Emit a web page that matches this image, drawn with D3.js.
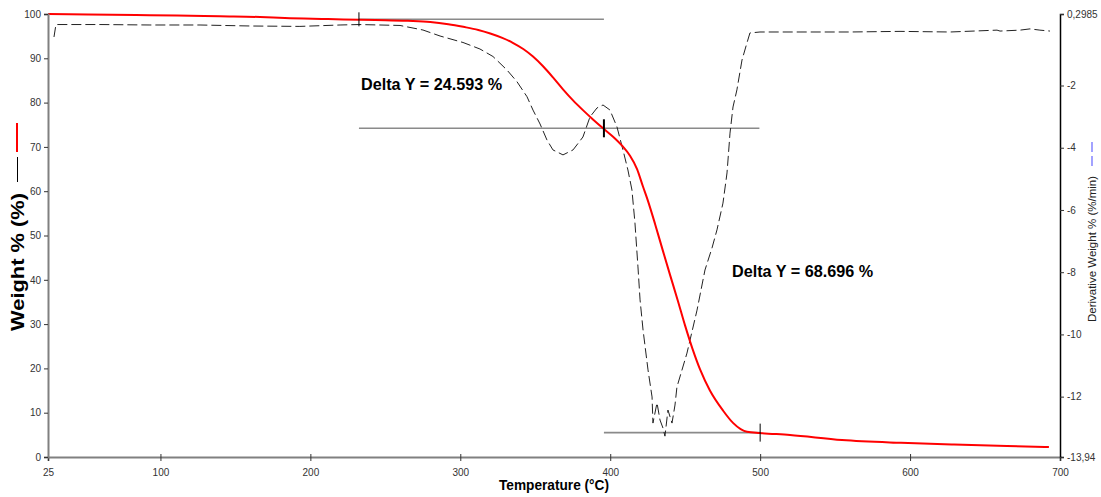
<!DOCTYPE html>
<html><head><meta charset="utf-8">
<script src="https://cdn.jsdelivr.net/npm/d3@7"></script>
<style>body{margin:0;background:#fff}svg{display:block}text{font-family:"Liberation Sans",Arial,sans-serif}</style>
</head><body><svg id="c" width="1101" height="497"></svg>
<script>
// Weight % curve (temperature °C, weight %)
const weightT = [25,51.7,83.7,111,139.7,166.4,183,211.8,233.1,250,265,280,292,302,312,320,328,335,342,348.5,355.2,361.8,368.5,375.2,381.8,388.5,395.8,401.9,408.5,413.2,417.9,421.9,425,430,435,440,445,450,455,460,466.5,475.2,481.9,487,491.2,499.9,519.9,554.6,593.9,629.3,664.6,692.6];
const weightV = [100,99.9,99.77,99.66,99.48,99.32,99.1,98.87,98.69,98.6,98.45,98.2,97.7,97.1,96.4,95.6,94.6,93.5,92.1,90.4,88.2,85.7,83.0,80.5,78.3,76.2,74.04,72.3,70.05,68.0,65.0,61.0,58.0,52.5,46.7,41.0,35.4,29.6,24.3,19.7,15.0,10.5,7.7,6.3,5.7,5.42,4.97,3.84,3.2,2.8,2.48,2.26];
// Derivative weight curve (temperature °C, %/min)
const derivT = [29,30.3,59.7,93,126.4,159.7,193,219.8,232.4,246.4,259.8,275.1,286.5,301.8,313.1,321.8,331.1,337.8,344.5,348.5,353.2,357.8,361.8,368.5,375.2,381.8,386.5,391.2,395.2,399.8,404.5,408.5,411.8,414.5,416.5,418.5,419.9,421.9,425.2,427.9,428.5,431.2,433.2,435.2,436.5,438.5,441.2,443.2,444.5,451.2,457.9,463.2,467.9,471.2,475.2,477.9,479.9,481.9,484.5,487.9,491.2,493.2,499.9,526.6,560,593.3,626.6,658,660,673.3,680,686.6,693.3];
const derivV = [-0.44,-0.04,-0.04,-0.055,-0.055,-0.087,-0.10,-0.055,-0.04,-0.055,-0.07,-0.216,-0.409,-0.617,-0.826,-1.067,-1.50,-1.877,-2.36,-2.79,-3.237,-3.75,-4.07,-4.23,-4.07,-3.655,-3.01,-2.72,-2.626,-2.787,-3.33,-4.07,-4.715,-5.36,-6.42,-7.83,-8.89,-9.86,-11.14,-12.01,-12.85,-12.20,-12.75,-13.01,-13.27,-12.43,-12.85,-12.27,-11.69,-10.60,-9.22,-7.93,-7.22,-6.64,-5.78,-4.81,-3.53,-2.69,-2.14,-1.18,-0.63,-0.31,-0.28,-0.28,-0.28,-0.26,-0.28,-0.22,-0.25,-0.22,-0.18,-0.22,-0.25];
// Axis ticks
const xTicks = [25,100,200,300,400,500,600,700];
const yTicks = [0,10,20,30,40,50,60,70,80,90,100];
const y2Ticks = [0.2985,-2,-4,-6,-8,-10,-12,-13.94];
const y2Labels = ["0,2985","-2","-4","-6","-8","-10","-12","-13,94"];
// Delta Y annotations: step points (T, weight) and labels
const stepT = [232.4,395.8,500];
const stepW = [98.8,74.2,5.5];
const deltaLabels = ["Delta Y = 24.593 %","Delta Y = 68.696 %"];

const svg = d3.select("#c");
const L=48,R=1060,T=14,B=457;
const x = d3.scaleLinear().domain([25,700]).range([L,R]);
const y = d3.scaleLinear().domain([0,100]).range([B,T]);
const y2 = d3.scaleLinear().domain([-13.94,0.2985]).range([B,T]);

// annotation lines
const g = svg.append("g");
const hl = [[stepT[0],stepT[1],stepW[0]],[stepT[0],499.5,stepW[1]],[stepT[1],stepT[2],stepW[2]]];
hl.forEach(d=>g.append("line").attr("x1",x(d[0])).attr("x2",x(d[1])).attr("y1",y(d[2])).attr("y2",y(d[2])).attr("stroke","#8a8a8a").attr("stroke-width",1.6));

// derivative curve
const dData = derivT.map((t,i)=>[t,derivV[i]]);
svg.append("path").datum(dData).attr("fill","none").attr("stroke","#222").attr("stroke-width",1)
  .attr("stroke-dasharray","10,4")
  .attr("d",d3.line().x(d=>x(d[0])).y(d=>y2(d[1])));

// weight curve
const wData = weightT.map((t,i)=>[t,weightV[i]]);
svg.append("path").datum(wData).attr("fill","none").attr("stroke","#ff0000").attr("stroke-width",2)
  .attr("d",d3.line().x(d=>x(d[0])).y(d=>y(d[1])).curve(d3.curveMonotoneX));

// step markers
[[0,7,1],[1,9,2],[2,9,1]].forEach(([i,h,w])=>{
  svg.append("line").attr("x1",x(stepT[i])).attr("x2",x(stepT[i])).attr("y1",y(stepW[i])-h).attr("y2",y(stepW[i])+h).attr("stroke","#000").attr("stroke-width",w);
});
svg.append("text").attr("x",361).attr("y",90).attr("font-size",16.2).attr("font-weight","bold").attr("fill","#000").text(deltaLabels[0]);
svg.append("text").attr("x",732).attr("y",277).attr("font-size",16.2).attr("font-weight","bold").attr("fill","#000").text(deltaLabels[1]);

// axes
const ax = svg.append("g").attr("transform",`translate(0,${B})`).call(d3.axisBottom(x).tickValues(xTicks).tickSize(4).tickFormat(d3.format("d")));
ax.select(".domain").attr("stroke","#808080").attr("stroke-width",2);
ax.selectAll(".tick line").attr("stroke","#333").attr("y1",-3);
ax.selectAll("text").attr("font-size",10).attr("fill","#333").attr("dy","1.2em").style("font-family","Liberation Sans, Arial");

const ay = svg.append("g").attr("transform",`translate(${L},0)`).call(d3.axisLeft(y).tickValues(yTicks).tickSize(4));
ay.select(".domain").attr("stroke","#808080").attr("stroke-width",2);
ay.selectAll(".tick line").attr("stroke","#333");
ay.selectAll("text").attr("font-size",10).attr("fill","#333").style("font-family","Liberation Sans, Arial");

const ay2 = svg.append("g").attr("transform",`translate(${R},0)`).call(d3.axisRight(y2).tickValues(y2Ticks).tickSize(4).tickFormat((d,i)=>y2Labels[i]));
ay2.select(".domain").attr("stroke","#000").attr("stroke-width",1.5);
ay2.selectAll(".tick line").attr("stroke","#333");
ay2.selectAll("text").attr("font-size",10).attr("fill","#333").style("font-family","Liberation Sans, Arial");

// axis titles
svg.append("text").attr("x",554).attr("y",490).attr("text-anchor","middle").attr("font-size",14).attr("font-weight","bold").attr("textLength",110).attr("lengthAdjust","spacingAndGlyphs").text("Temperature (°C)");
svg.append("text").attr("transform","translate(24,262) rotate(-90)").attr("text-anchor","middle").attr("font-size",19).attr("font-weight","bold").attr("textLength",138).attr("lengthAdjust","spacingAndGlyphs").text("Weight % (%)");
svg.append("line").attr("x1",17.5).attr("x2",17.5).attr("y1",157).attr("y2",182).attr("stroke","#000").attr("stroke-width",1);
svg.append("line").attr("x1",17).attr("x2",17).attr("y1",123).attr("y2",152).attr("stroke","#ff0000").attr("stroke-width",2);
svg.append("text").attr("transform","translate(1096,249) rotate(-90)").attr("text-anchor","middle").attr("font-size",11.5).attr("fill","#222").text("Derivative Weight % (%/min)");
svg.append("line").attr("x1",1092).attr("x2",1092).attr("y1",142).attr("y2",170).attr("stroke","#6666ff").attr("stroke-width",1.2).attr("stroke-dasharray","10,4");
</script></body></html>
